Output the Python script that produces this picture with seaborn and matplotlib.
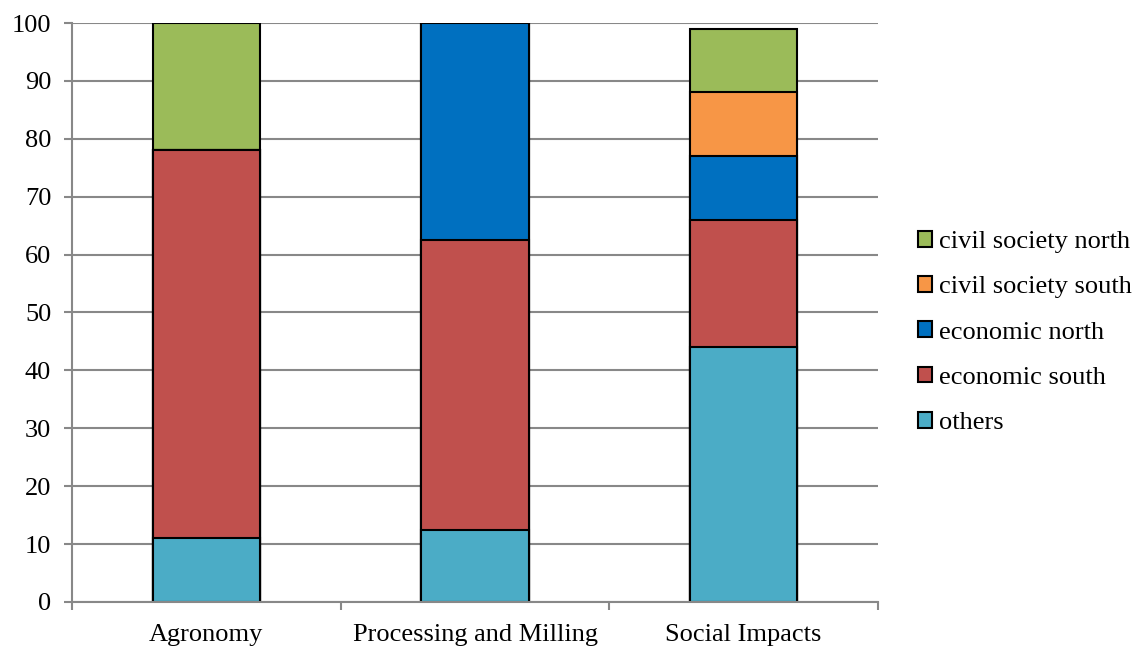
import matplotlib
matplotlib.use("Agg")
import matplotlib.pyplot as plt
from matplotlib.patches import Patch
import numpy as np
import pandas as pd
import seaborn as sns

categories = ["Agronomy", "Processing and Milling", "Social Impacts"]
others = [11, 12.5, 44]
economic_south = [67, 50, 22]
economic_north = [0, 37.5, 11]
civil_society_south = [0, 0, 11]
civil_society_north = [22, 0, 11]

series_names = ["others", "economic south", "economic north",
                "civil society south", "civil society north"]
series_values = [others, economic_south, economic_north,
                 civil_society_south, civil_society_north]
colors = ["#4BACC6", "#C0504D", "#0070C0", "#F79646", "#9BBB59"]

sns.set_theme(style="white")
plt.rcParams["font.family"] = ["Liberation Serif", "DejaVu Serif"]

fig = plt.figure(figsize=(11.36, 6.48), dpi=100)
ax = fig.add_axes([0.0634, 0.071, 0.7095, 0.8935])

# Cumulative tops for each stacked layer
tops = np.cumsum(np.array(series_values, dtype=float), axis=0)

grid_color = "#888888"
for y in range(0, 101, 10):
    ax.axhline(y, color=grid_color, lw=1.5, zorder=0)

# Draw from the highest layer down so each lower segment covers the one above
for i in range(len(series_names) - 1, -1, -1):
    df = pd.DataFrame({"category": categories, "top": tops[i]})
    sns.barplot(data=df, x="category", y="top", order=categories,
                color=colors[i], saturation=1, width=0.4,
                edgecolor="black", linewidth=1.5, ax=ax, zorder=2)

ax.set_ylim(0, 100)
ax.set_xlim(-0.5, 2.5)
ax.set_yticks(range(0, 101, 10))
ax.set_xlabel("")
ax.set_ylabel("")

for side in ["top", "right"]:
    ax.spines[side].set_visible(False)
for side in ["left", "bottom"]:
    ax.spines[side].set_color(grid_color)
    ax.spines[side].set_linewidth(1.5)

ax.tick_params(axis="y", which="major", direction="out", length=6,
               width=1.5, color=grid_color, labelsize=19, pad=9, left=True)
ax.tick_params(axis="x", which="major", length=0, labelsize=19, pad=16)
ax.set_xticks([-0.5, 0.5, 1.5, 2.5], minor=True)
ax.tick_params(axis="x", which="minor", direction="out", length=5.5,
               width=1.5, color=grid_color, bottom=True)
for lab in ax.get_xticklabels() + ax.get_yticklabels():
    lab.set_color("black")

handles = [Patch(facecolor=colors[i], edgecolor="black", linewidth=1.5,
                 label=series_names[i]) for i in range(len(series_names) - 1, -1, -1)]
fig.legend(handles=handles, loc="center left", bbox_to_anchor=(0.7985, 0.487),
           frameon=False, fontsize=19, handlelength=0.55, handleheight=0.55,
           handletextpad=0.25, labelspacing=0.87, borderaxespad=0,
           labelcolor="black")

fig.savefig("out.png", dpi=100)
